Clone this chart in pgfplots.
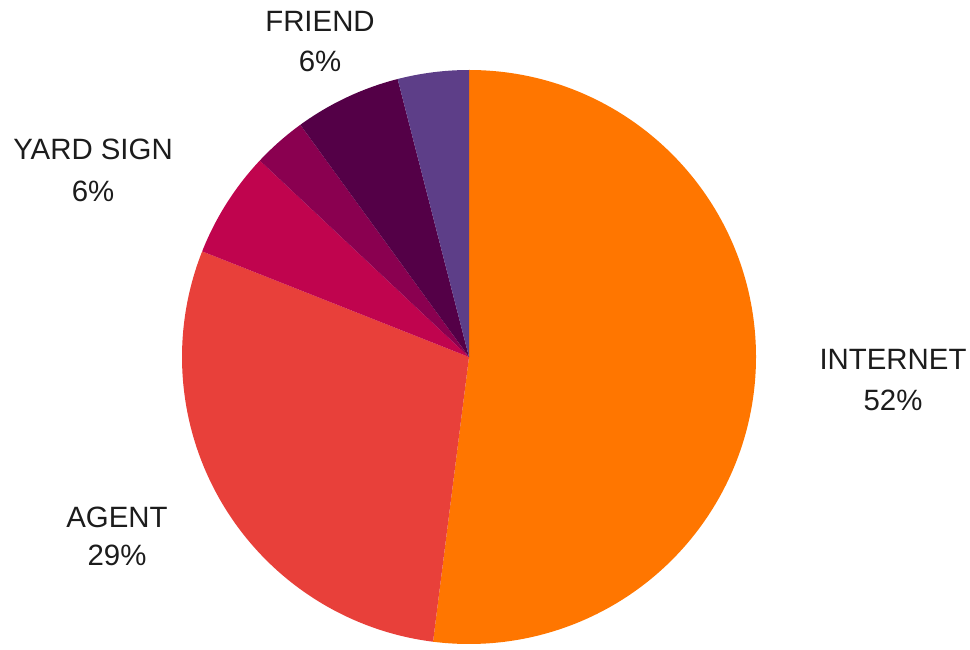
\documentclass[border=0pt]{standalone}
\usepackage{pgfplots}
\usepackage{pgfplotstable}
\pgfplotsset{compat=1.18}
\usepackage{fontspec}
\setmainfont{Liberation Sans}
\definecolor{cInternet}{HTML}{FF7600}
\definecolor{cAgent}{HTML}{E8403A}
\definecolor{cYard}{HTML}{C0044E}
\definecolor{cOther}{HTML}{8A0050}
\definecolor{cFriend}{HTML}{540047}
\definecolor{cRef}{HTML}{5D3E88}
\definecolor{txt}{HTML}{1C1C1C}
\pgfplotstableread{
label value color
INTERNET 52 cInternet
AGENT 29 cAgent
YARDSIGN 6 cYard
OTHER 3 cOther
FRIEND 6 cFriend
REFERRAL 4 cRef
}\piedata
\begin{document}
\begin{tikzpicture}
\begin{axis}[
  scale only axis, width=970bp, height=646bp,
  xmin=0, xmax=970, ymin=0, ymax=646,
  hide axis, clip=false,
]
\path (axis cs:0,0) rectangle (axis cs:970,646);
\def\cum{0}
\pgfplotsforeachungrouped \i in {0,...,5}{%
  \pgfplotstablegetelem{\i}{value}\of\piedata \let\v\pgfplotsretval
  \pgfplotstablegetelem{\i}{color}\of\piedata \let\c\pgfplotsretval
  \pgfmathsetmacro\a{90-3.6*\cum}%
  \pgfmathsetmacro\b{90-3.6*(\cum+\v)}%
  \edef\temp{\noexpand\fill[\c] (axis cs:469,289) -- ++(\a:287bp) arc[start angle=\a, end angle=\b, radius=287bp] -- cycle;}%
  \temp
  \pgfmathsetmacro\cum{\cum+\v}%
}
\begin{scope}[every node/.style={anchor=base, text=txt, font=\fontsize{29.5}{35}\selectfont, inner sep=0pt}]
\node at (axis cs:893,277) {INTERNET};
\node at (axis cs:893,236) {52\%};
\node at (axis cs:117,119) {AGENT};
\node at (axis cs:117,81) {29\%};
\node at (axis cs:93,486) {YARD SIGN};
\node at (axis cs:93,444) {6\%};
\node at (axis cs:320,614) {FRIEND};
\node at (axis cs:320,574) {6\%};
\end{scope}
\end{axis}
\end{tikzpicture}
\end{document}
